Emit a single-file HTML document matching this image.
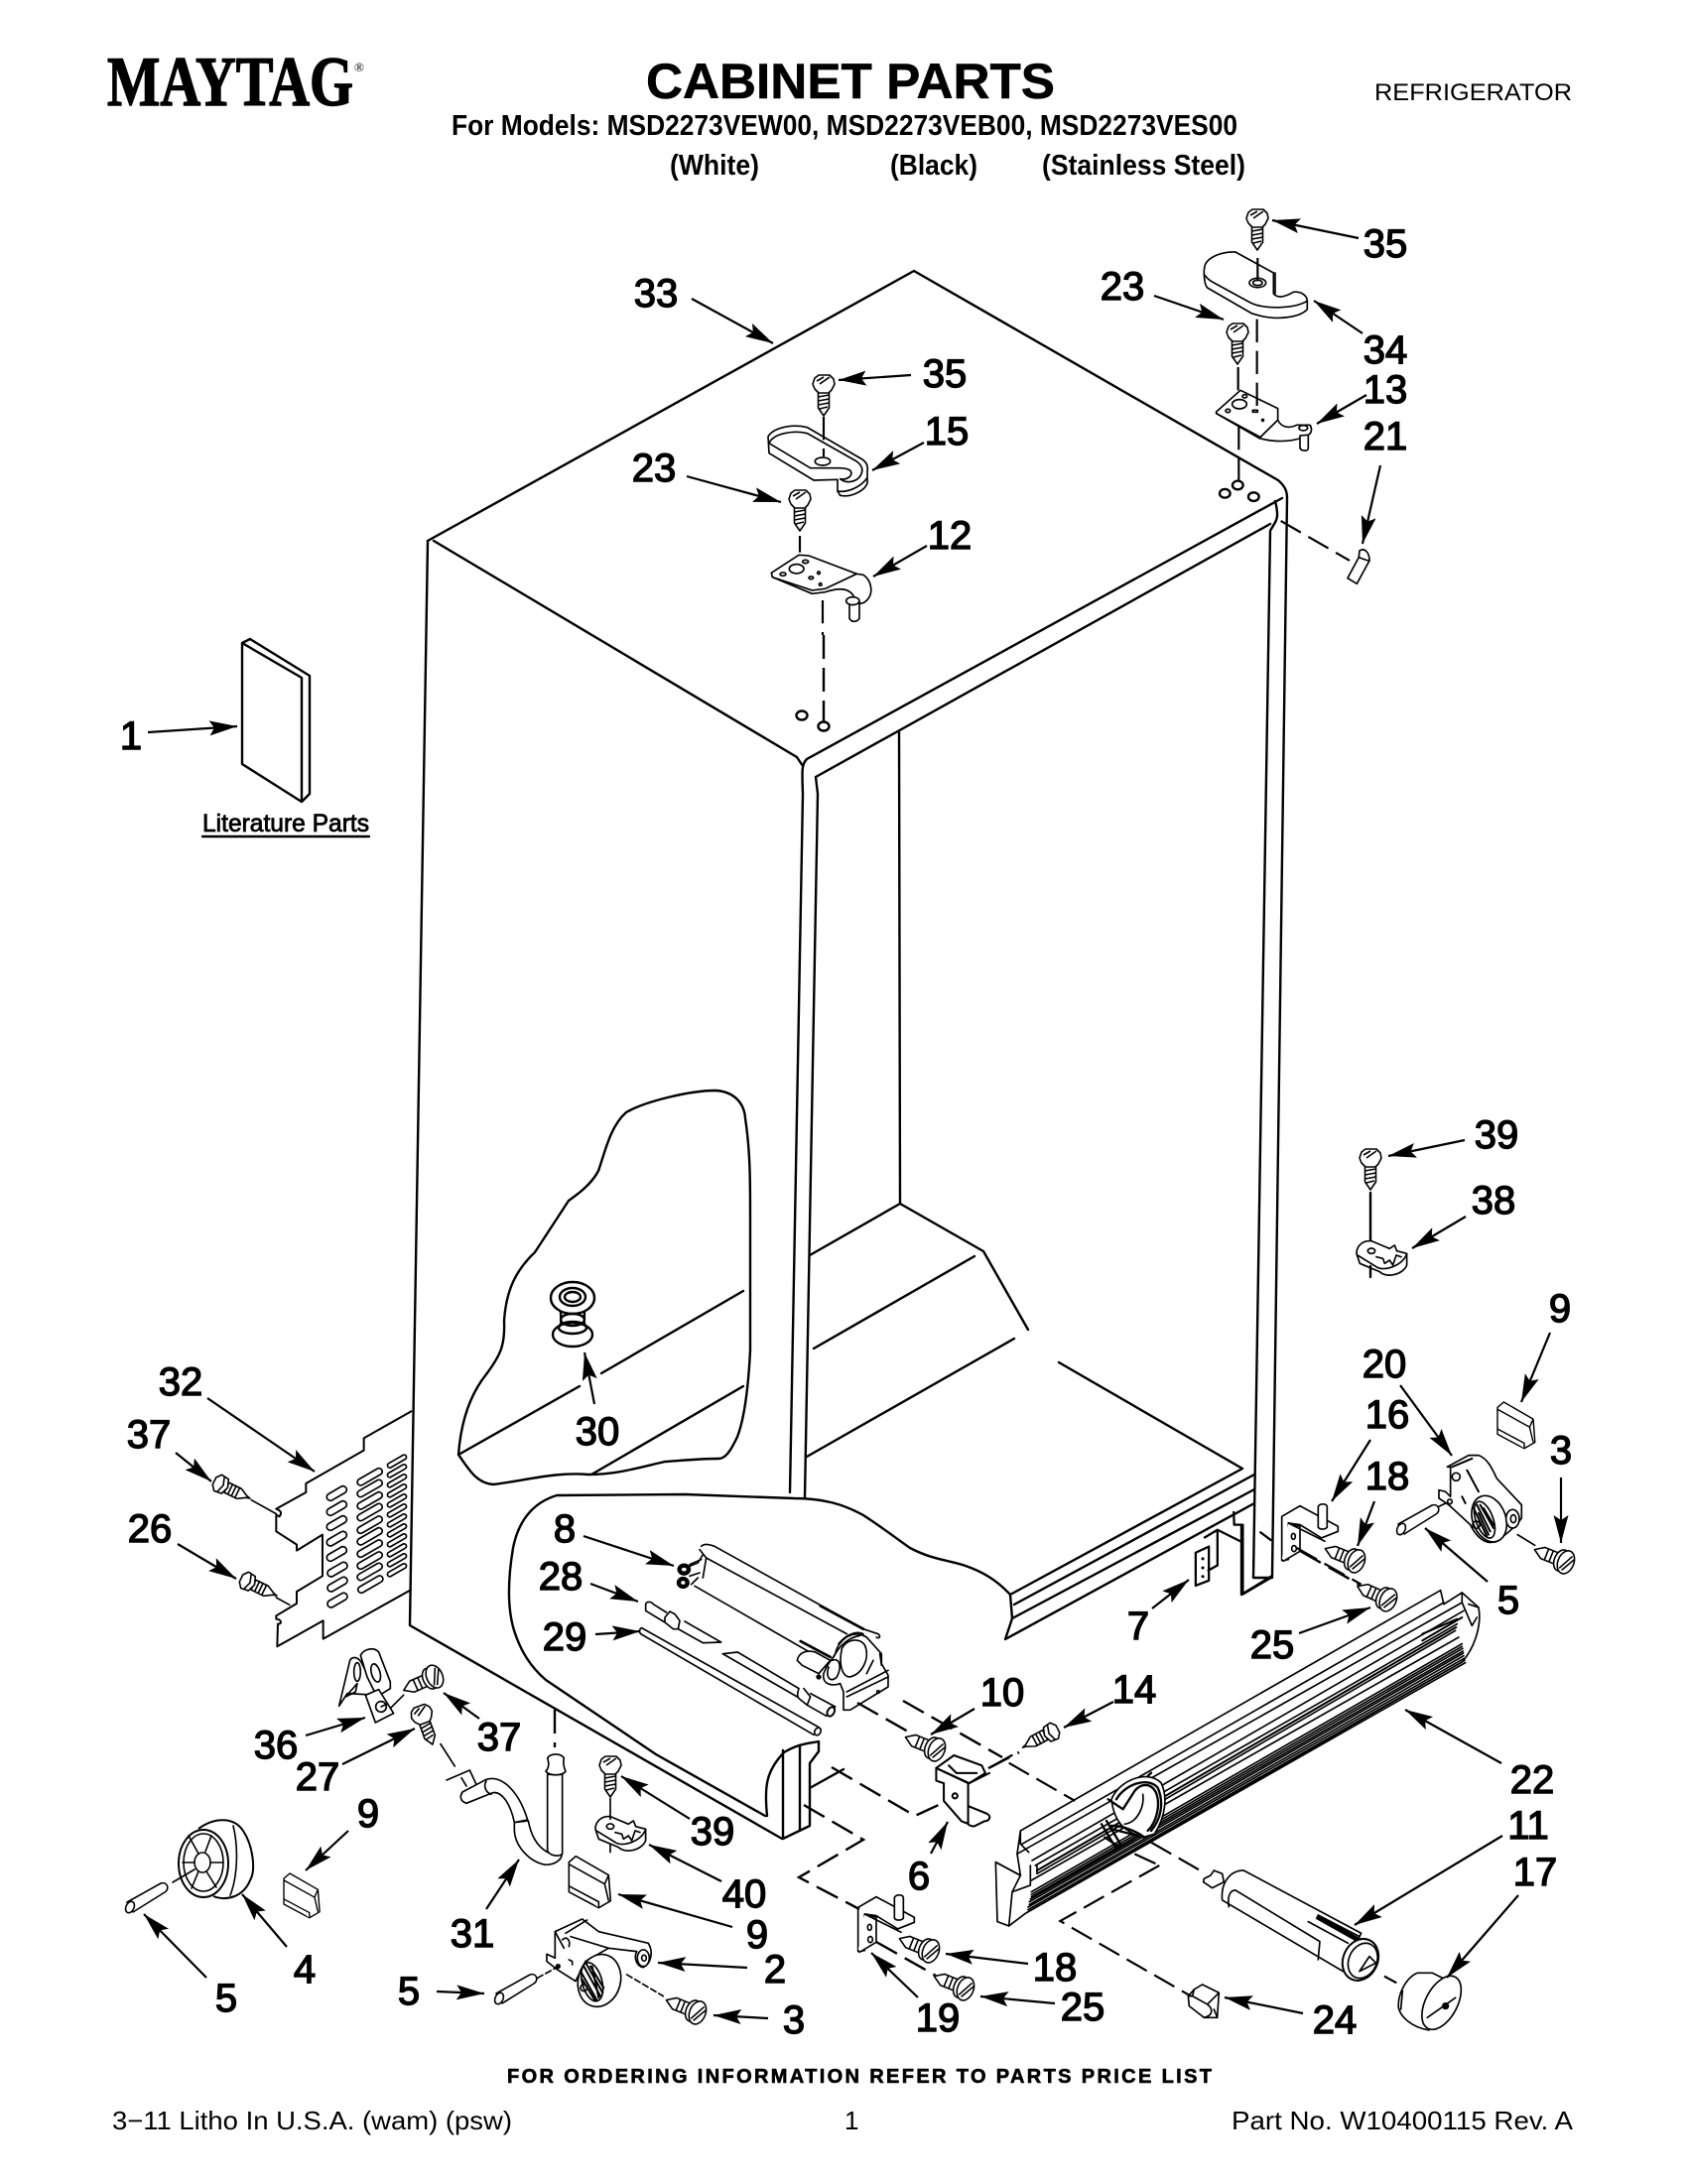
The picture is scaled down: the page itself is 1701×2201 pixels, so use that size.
<!DOCTYPE html>
<html><head><meta charset="utf-8"><title>Cabinet Parts</title>
<style>
html,body{margin:0;padding:0;background:#fff}
svg{display:block}
text{font-family:"Liberation Sans",sans-serif;fill:#000}
.n{font-size:40px;text-anchor:middle;stroke:#000;stroke-width:1.4px}
.l{fill:none;stroke:#000;stroke-width:2.4;stroke-linejoin:round;stroke-linecap:round}
.a{fill:none;stroke:#000;stroke-width:2.2;marker-end:url(#ah)}
.d{fill:none;stroke:#000;stroke-width:2.4;stroke-dasharray:24 9}
.z{fill:none;stroke:#000;stroke-width:5;stroke-linejoin:round;stroke-linecap:round}
.zw{fill:#fff;stroke:#000;stroke-width:5;stroke-linejoin:round;stroke-linecap:round}
.zd{fill:none;stroke:#000;stroke-width:6.5;stroke-dasharray:70 26}
.f{fill:#fff;stroke:#000;stroke-width:1.6;stroke-linejoin:round}
</style></head><body>
<svg width="1701" height="2201" viewBox="0 0 1701 2201" xmlns="http://www.w3.org/2000/svg">
<defs>
<marker id="ah" markerUnits="userSpaceOnUse" markerWidth="30" markerHeight="18" refX="28" refY="9" orient="auto"><path d="M28 9L0 1.5L5 9L0 16.5Z" fill="#000"/></marker>
<g id="vs"><path class="f" d="M-5.5 7V24L0 32L5.5 24V7Z"/><path class="f" d="M-11 0L-9-6L-5-9L6-9L10-5L11 0L8 6L5 9L-5 9L-9 5Z"/><path class="f" d="M-7-3L0-7M-4 0L6-7M-5.5 13L5.5 11M-5.5 17L5.5 15M-5.5 21L5.5 19M-4 25L4 23"/></g>
<g id="hs"><path class="f" d="M-6-6L-24-6L-33 0L-24 6L-6 6Z"/><path class="f" d="M-20-6V6M-15-6V6M-10-6V6"/><ellipse class="f" cx="-4" cy="0" rx="7" ry="11"/><ellipse class="f" cx="1" cy="0" rx="8" ry="12"/><path class="f" d="M-3 8L5-8M0 9L8-6"/></g>
<g id="hx"><path class="f" d="M4-5H18L26-1L30 0L26 1L18 6H4Z"/><path class="f" d="M8-6V6M12-6V6M16-6V6"/><path class="f" d="M-10-4L-6-9L2-8L5 0L2 8L-6 9L-10 4Z"/><path class="f" d="M-3-9L0 0L-3 9"/></g>
<rect id="c1" x="-33" y="-11" width="66" height="22" rx="11" class="f" transform="rotate(-30)" style="stroke-width:5"/>
<rect id="c2" x="-42" y="-10" width="84" height="20" rx="10" class="f" transform="rotate(-30)" style="stroke-width:5"/>
<rect id="c3" x="-32" y="-7" width="64" height="14" rx="7" class="f" transform="rotate(-30)" style="stroke-width:5"/>
<g id="pin"><path class="f" d="M-3-5L31-24C38-26 40-18 35-15L3 5Z"/><ellipse class="f" cx="0" cy="0" rx="4" ry="6" transform="rotate(25)"/></g>
<g id="pad"><path class="f" d="M0 6L7 0L40 19L42 45L30 52L0 36Z"/><path class="f" d="M0 8L36 28L40 45M36 28L40 19M0 30L30 46L30 52"/></g>
<g id="nut" transform="scale(.3333)"><path class="zw" d="M600 490C600 465 620 450 645 452L700 475L715 465L722 482L752 490V525C740 555 690 565 670 545L610 520Z"/><path class="z" d="M603 495L660 530C680 545 735 530 752 492M660 500L680 505L685 520L700 510L710 525L720 495L735 500"/><ellipse class="zw" cx="645" cy="482" rx="11" ry="8"/></g>
<g id="hinge" transform="scale(.3333)"><path class="zw" d="M95 1225L150 1193L265 1255V1270L215 1290L150 1250L115 1245V1355L95 1358Z"/><path class="zw" d="M115 1245L150 1255V1330L100 1360L95 1355"/><path class="z" d="M115 1245L225 1300"/><path class="zw" d="M205 1195C210 1185 230 1185 232 1195V1258C225 1265 210 1265 205 1258Z"/><ellipse class="z" cx="130" cy="1285" rx="6" ry="9"/><ellipse class="z" cx="132" cy="1322" rx="7" ry="9"/></g>
</defs>

<!-- header -->
<text x="108" y="106" font-size="71" font-weight="700" textLength="248" lengthAdjust="spacingAndGlyphs" stroke="#000" stroke-width="1.4" style="font-family:'Liberation Serif',serif">MAYTAG</text>
<text x="357" y="72" font-size="13" style="font-family:'Liberation Serif',serif">®</text>
<text x="651" y="99" font-size="50" font-weight="700" textLength="412" lengthAdjust="spacingAndGlyphs" stroke="#000" stroke-width=".5">CABINET PARTS</text>
<text x="1385" y="101" font-size="24" textLength="199" lengthAdjust="spacingAndGlyphs">REFRIGERATOR</text>
<text x="455" y="136" font-size="29" font-weight="700" textLength="792" lengthAdjust="spacingAndGlyphs">For Models: MSD2273VEW00, MSD2273VEB00, MSD2273VES00</text>
<text x="675" y="176" font-size="29" font-weight="700" textLength="90" lengthAdjust="spacingAndGlyphs">(White)</text>
<text x="897" y="176" font-size="29" font-weight="700" textLength="88" lengthAdjust="spacingAndGlyphs">(Black)</text>
<text x="1050" y="176" font-size="29" font-weight="700" textLength="205" lengthAdjust="spacingAndGlyphs">(Stainless Steel)</text>

<!-- cabinet -->
<path class="l" d="M431 545L921 273L1288 484C1295 490 1297 495 1297 502L1282 1588L1251 1607V1537M1263 1590L1280 535M1292 502L813 765C808 770 808 775 809 800L796 1504M824 800L811 1509M822 783L1280 528M1285 505C1290 525 1285 525 1280 535M1263 1590H1282M437 545L803 763L809 772M822 783L824 800"/>
<path class="l" d="M431 545L413 1638L788 1853M906 737L907 1213L816 1265M907 1213L991 1261L1036 1340M982 1266L820 1359M1022 1349L813 1468M1067 1373L1252 1480L1018 1607M1264 1486L1022 1617M1264 1501L1020 1631M1264 1515L1013 1652L1020 1631L1018 1607"/>
<!-- book -->
<path class="l" d="M244 648L252 644L312 681V800L304 808L244 770ZM244 648L304 683V808"/>
<text x="204" y="838" font-size="25" stroke="#000" stroke-width=".8" textLength="168" lengthAdjust="spacingAndGlyphs">Literature Parts</text>
<path class="l" d="M204 843H372"/>
<!-- cutaway 1 -->
<path class="l" d="M462 1466C465 1425 478 1400 490 1385C505 1365 509 1355 508 1331C510 1300 520 1280 539 1262L573 1210C580 1205 595 1195 603 1180C610 1160 615 1135 631 1121C650 1110 695 1099 721 1099C740 1100 750 1112 751 1127C756 1160 756 1190 756 1225V1361C754 1400 750 1430 743 1448C735 1465 730 1470 724 1470C705 1470 685 1472 670 1473C640 1480 620 1486 593 1486C560 1483 530 1492 497 1496C480 1495 472 1480 462 1466M462 1466L584 1397M606 1384L749 1301M596 1486L749 1397"/>
<ellipse class="l" cx="577" cy="1308" rx="22" ry="16"/><ellipse class="l" cx="577" cy="1307" rx="13" ry="9"/><ellipse class="l" cx="577" cy="1307" rx="8" ry="5"/><path class="l" d="M565 1322C565 1330 567 1335 562 1338M589 1322C589 1330 587 1335 592 1338"/><ellipse class="l" cx="577" cy="1345" rx="20" ry="12"/><ellipse class="l" cx="577" cy="1330" rx="12" ry="6"/><ellipse class="l" cx="577" cy="1338" rx="14" ry="6"/>
<!-- cutaway 2 -->
<path class="l" d="M1018 1607C1004 1592 990 1584 973 1578C955 1572 940 1572 917 1560C900 1548 890 1540 870 1527C850 1516 830 1510 800 1510L690 1506L561 1507C535 1515 522 1535 517 1560C512 1590 511 1620 518 1643C525 1665 535 1680 550 1693L661 1768L771 1830"/>
<path class="l" d="M773 1830C770 1800 772 1785 790 1766C805 1757 815 1757 825 1755V1765L816 1777V1840L789 1853V1764M806 1759V1845M816 1802L850 1783"/>
<!-- 32 panel and louvers -->
<g transform="translate(150 1380) scale(.3333)">
<path class="z" d="M793 127L650 208V245L475 345V372L385 422C395 425 405 432 395 445L385 440V490L447 530V548L525 500V625L447 672V708L385 745V755C400 755 405 770 390 770L388 838L527 760V815L790 668" style="stroke-width:6"/>
<use href="#c1" x="568" y="375"/><use href="#c1" x="568" y="420"/><use href="#c1" x="568" y="465"/><use href="#c1" x="568" y="512"/><use href="#c1" x="568" y="558"/><use href="#c1" x="570" y="605"/><use href="#c1" x="570" y="650"/><use href="#c1" x="570" y="698"/>
<use href="#c2" x="668" y="325"/><use href="#c2" x="668" y="360"/><use href="#c2" x="668" y="397"/><use href="#c2" x="668" y="432"/><use href="#c2" x="668" y="470"/><use href="#c2" x="668" y="505"/><use href="#c2" x="668" y="542"/><use href="#c2" x="668" y="578"/><use href="#c2" x="668" y="612"/><use href="#c2" x="670" y="650"/>
<use href="#c3" x="750" y="278"/><use href="#c3" x="750" y="307"/><use href="#c3" x="750" y="337"/><use href="#c3" x="750" y="367"/><use href="#c3" x="750" y="397"/><use href="#c3" x="750" y="427"/><use href="#c3" x="750" y="457"/><use href="#c3" x="750" y="487"/><use href="#c3" x="750" y="517"/><use href="#c3" x="750" y="547"/><use href="#c3" x="750" y="577"/><use href="#c3" x="750" y="607"/>
<path class="z" d="M310 395L385 437M385 690L425 712M725 1030L770 985M882 1133L925 1200"/>
<!-- 36 -->
<path class="zw" d="M575 1018L608 880C615 868 630 868 642 885L672 945L690 985L600 980Z"/>
<path class="zw" d="M640 865C650 845 680 838 695 855L730 945V965L690 990L660 930Z"/>
<path class="zw" d="M655 985L695 968L740 1040L685 1068Z"/>
<ellipse class="z" cx="630" cy="915" rx="10" ry="28"/><ellipse class="z" cx="686" cy="918" rx="13" ry="28" transform="rotate(-15 686 918)"/><path class="z" d="M595 990L630 950L625 975Z"/><circle class="z" cx="702" cy="1020" r="16"/><path class="z" d="M702 1020L720 1012"/>
</g>
<!-- 31 hose -->
<g transform="translate(400 1680) scale(.3333)">
<path class="z" d="M150 342L220 312L240 355M195 335L210 360"/>
<path class="zw" d="M198 378L270 340C320 325 370 380 395 462L355 470C345 420 320 375 290 380L210 412C190 405 190 390 198 378Z"/>
<path class="zw" d="M355 470L397 465C405 505 420 540 455 560L498 565C500 580 480 598 450 598C400 590 355 540 355 490Z"/>
<path class="zw" d="M455 325L500 325V565C490 575 460 570 455 555Z"/>
<path class="zw" d="M450 315C460 305 460 290 455 275C465 260 495 260 505 275C502 290 505 305 510 315C500 330 460 330 450 315Z"/>
<path class="z" d="M270 345C260 360 270 380 285 385"/>
<use href="#nut" transform="scale(3)"/>
<path class="z" d="M645 397V460M645 535V560"/>
<!-- large pad -->
<use href="#pad" transform="translate(520 572) scale(3)"/>
<!-- roller 2 -->
<path class="zw" d="M478 800L560 762L610 800L760 835C775 860 770 895 745 908C725 905 715 880 725 860L640 850L570 890L540 950L485 915L453 890V868L478 880Z"/>
<path class="z" d="M478 800L505 850M510 805L575 765M525 815L640 850M500 825C515 810 525 830 520 845M520 885L530 890V900"/>
<ellipse class="zw" cx="612" cy="948" rx="64" ry="80" transform="rotate(15 612 948)"/>
<ellipse class="zw" cx="590" cy="952" rx="30" ry="60" transform="rotate(-15 590 952)"/>
<path class="z" d="M565 905L615 995M573 898L622 985M585 905L625 970M558 925L605 1008M560 945L600 1010M590 905L610 1000" style="stroke-width:6"/>
<circle class="z" cx="565" cy="970" r="10"/><ellipse class="zw" cx="745" cy="880" rx="18" ry="25"/><ellipse class="z" cx="747" cy="880" rx="7" ry="9"/><circle cx="487" cy="905" r="8"/>
<path class="z" d="M425 940L480 910M695 930L805 995" stroke-dasharray="18 10"/>
</g>
<use href="#vs" x="1267" y="220"/><use href="#vs" x="1247" y="335"/><use href="#vs" x="830" y="387"/><use href="#vs" x="806" y="503"/><use href="#vs" x="1381" y="1167"/><use href="#vs" x="615" y="1779"/>
<use href="#vs" transform="translate(425 1728) rotate(-20)"/>
<use href="#hs" transform="translate(1366 1573) rotate(22)"/><use href="#hs" transform="translate(1398 1612) rotate(24)"/><use href="#hs" transform="translate(1577 1574) rotate(22)"/><use href="#hs" transform="translate(943 1763) rotate(22)"/><use href="#hs" transform="translate(702 2028) rotate(22)"/><use href="#hs" transform="translate(937 1966) rotate(22)"/><use href="#hs" transform="translate(972 2004) rotate(22)"/>
<use href="#hs" transform="translate(437 1690) rotate(-24)"/>
<use href="#hx" transform="translate(1057 1747) rotate(152)"/><use href="#hx" transform="translate(225 1497) rotate(26)"/><use href="#hx" transform="translate(252 1595) rotate(26)"/>
<!-- top hinge and covers -->
<g transform="translate(1130 190) scale(.3333)">
<path class="zw" d="M252 235C258 210 300 190 345 192L460 255V318C475 335 500 325 520 313C545 310 562 325 562 340V365C540 390 470 398 420 385L395 378L260 300C250 290 248 250 252 235Z"/>
<path class="z" d="M252 262C262 275 270 280 280 285L390 345C430 365 520 365 562 340M465 255V318"/>
<ellipse class="z" cx="412" cy="285" rx="25" ry="14"/><ellipse class="z" cx="412" cy="285" rx="14" ry="8"/>
<path class="zw" d="M287 675L360 610L473 665V700L417 755L287 680Z"/>
<path class="zw" d="M473 700C485 725 510 725 530 715L570 715C578 725 575 740 565 745C530 765 470 770 417 755L473 700Z"/>
<path class="z" d="M287 680L417 750"/>
<ellipse class="z" cx="357" cy="652" rx="22" ry="14"/><ellipse class="z" cx="373" cy="628" rx="7" ry="5"/><ellipse class="z" cx="322" cy="672" rx="7" ry="5"/><ellipse class="z" cx="550" cy="724" rx="13" ry="8"/><path class="zw" d="M540 747V785C545 795 565 795 565 785V745Z"/><rect class="z" x="397" y="670" width="15" height="6"/><rect class="z" x="425" y="698" width="5" height="5"/>
<ellipse class="zw" cx="352" cy="897" rx="16" ry="13" style="stroke-width:7"/><ellipse class="zw" cx="313" cy="922" rx="16" ry="13" style="stroke-width:7"/><ellipse class="zw" cx="400" cy="932" rx="16" ry="13" style="stroke-width:7"/>
<path class="zw" d="M720 1095C735 1085 750 1100 750 1125L712 1195L684 1178L718 1115Z"/><path class="z" d="M718 1115C730 1120 745 1125 750 1125"/>
<path class="zd" d="M412 210V280M410 395V675M353 540V640M355 720V885M482 1005L690 1125"/>
</g>
<g transform="translate(700 340) scale(.3333)">
<path class="zw" d="M222 300C240 270 300 262 340 272L500 365C520 375 525 390 522 405V440C515 465 470 485 440 478L432 465V430L360 432L225 350Z"/>
<path class="z" d="M226 318C240 290 300 280 340 290L490 375C510 390 510 405 500 420C490 435 460 445 440 428M225 320L350 395H435C470 395 480 405 470 420C460 430 450 430 440 428M432 465C460 470 500 455 522 425"/>
<ellipse class="zw" cx="387" cy="375" rx="23" ry="12"/>
<path class="zw" d="M232 712L315 658L345 660L490 715L510 718C535 735 540 770 525 790C510 810 490 810 482 785C470 760 440 755 395 770L355 775L235 725Z"/><path class="z" d="M235 725L355 765L395 760L490 715"/>
<ellipse class="z" cx="308" cy="700" rx="22" ry="14"/><ellipse class="z" cx="335" cy="678" rx="9" ry="5"/><ellipse class="z" cx="267" cy="716" rx="9" ry="5"/><ellipse class="z" cx="352" cy="727" rx="7" ry="4"/><ellipse class="z" cx="375" cy="712" rx="4" ry="4"/><ellipse class="z" cx="380" cy="747" rx="4" ry="4"/>
<path class="zw" d="M468 803V850C475 862 490 862 498 850V800Z"/><ellipse class="zw" cx="478" cy="797" rx="20" ry="12"/>
<path class="zd" d="M390 240V360M318 600V650M387 795V900"/>
</g>
<path class="d" d="M830 640V727"/>
<ellipse class="l" cx="830" cy="732" rx="5.5" ry="4.5"/><ellipse class="l" cx="808" cy="721" rx="5.5" ry="4.5"/>
<!-- right lower: hinge, 38, 20, 7 -->
<use href="#nut" transform="translate(1167 1100)"/>
<path class="l" d="M1381 1202V1250M1381 1276V1287"/>
<use href="#hinge" transform="translate(1260 1120)"/><use href="#hinge" transform="translate(833 1514)"/>
<path class="d" d="M1310 1563L1370 1597"/><path class="d" d="M883 1957L943 1991"/>
<g transform="translate(1260 1120) scale(.3333)">
<path class="zw" d="M595 1075L660 1040L690 1040C720 1050 735 1090 745 1110L820 1190V1230C800 1260 770 1280 745 1300C720 1310 690 1300 665 1250L600 1190L570 1170V1145L590 1150L605 1165V1075Z"/>
<ellipse class="zw" cx="722" cy="1232" rx="50" ry="72" transform="rotate(-20 722 1232)"/><ellipse class="zw" cx="708" cy="1235" rx="26" ry="58" transform="rotate(-20 708 1235)"/>
<path class="z" d="M685 1190L725 1270M695 1190L735 1260M705 1200L735 1250M675 1200L715 1285M690 1215L720 1280M610 1075L670 1050M655 1085L690 1150M640 1165L650 1185" style="stroke-width:6"/>
<ellipse class="zw" cx="793" cy="1232" rx="20" ry="28"/><ellipse class="z" cx="795" cy="1232" rx="8" ry="12"/><circle class="z" cx="622" cy="1105" r="12"/><circle class="z" cx="683" cy="1250" r="11"/><circle class="z" cx="603" cy="1180" r="7"/>
<path class="z" d="M570 1195L590 1185M808 1280L860 1312"/>
</g>
<use href="#pad" transform="translate(1509 1413) scale(.9)"/><use href="#pad" transform="translate(286 1888) scale(.86)"/>
<use href="#pin" transform="translate(1412 1541)"/><use href="#pin" transform="translate(503 2014)"/><use href="#pin" transform="translate(131 1922)"/>
<!-- part 7 and back bracket -->
<g transform="translate(900 1100) scale(.5107)">
<path class="z" d="M597 910L623 898V965L597 975ZM615 880L640 865L690 890M640 865V935L622 945M672 830L673 855L690 855V992L748 958M725 870L745 885" style="stroke-width:4.5"/>
<circle cx="611" cy="922" r="3"/><circle cx="611" cy="940" r="3"/><circle cx="611" cy="957" r="3"/>
</g>
<!-- 4 wheel -->
<path class="f" style="stroke-width:2" d="M200 1843C215 1832 235 1830 245 1845C255 1860 258 1885 252 1895C245 1912 228 1916 215 1911"/>
<ellipse class="f" style="stroke-width:2" cx="205" cy="1878" rx="25" ry="34"/><ellipse class="f" cx="205" cy="1877" rx="20" ry="29"/><ellipse class="f" cx="204" cy="1877" rx="8" ry="10"/>
<path class="l" style="stroke-width:1.6" d="M190 1850L200 1868M213 1850L207 1866M184 1877H196M212 1877H224M193 1903L200 1886M218 1902L208 1886M235 1840C240 1860 240 1890 232 1910M174 1897L196 1884"/>
<!-- coil 8, 28, 29 -->
<g transform="translate(640 1510) scale(.3333)">
<path class="z" d="M200 145C210 135 225 140 240 145L690 395L735 410C745 420 735 425 730 420M195 155L215 180L640 410M205 170L190 195L165 205M180 265L545 475M215 180L205 240"/>
<ellipse class="zw" cx="148" cy="215" rx="14" ry="12" style="stroke-width:13"/><ellipse class="zw" cx="145" cy="255" rx="13" ry="12" style="stroke-width:13"/><path class="z" d="M165 200L200 185M165 235L195 225M170 260L190 240"/>
<path class="zw" d="M490 490C495 465 520 458 545 465L590 490L555 530L505 505Z"/>
<path class="zw" d="M605 470C615 425 660 395 700 420L745 470V500L765 535V570L650 640L630 640V585L620 560C590 570 565 560 570 530C580 500 595 490 605 470Z"/>
<path class="z" d="M625 455C640 425 680 420 695 445C710 480 690 530 650 540C625 540 615 500 625 455M595 490C620 480 625 510 610 540C590 560 575 540 585 510M640 585L765 520M640 600L765 540M720 490L700 530M740 470L745 505M615 440C640 410 670 400 690 410M600 480C620 440 650 420 680 415"/>
<circle class="z" cx="735" cy="585" r="4"/><circle cx="555" cy="540" r="8"/>
<path class="z" d="M32 320C35 310 50 312 55 320L95 345M32 320V340L90 375L115 395L130 395L135 370L120 350L105 342L90 360V375M150 372L260 435L205 437L130 395M265 470L310 465L495 575M265 470L490 600M495 575C490 590 490 600 495 605L520 625L530 600L510 575M530 590L605 630M520 625L578 658"/>
<ellipse class="z" cx="592" cy="645" rx="10" ry="15" transform="rotate(30 592 645)" style="stroke-width:6"/>
<path class="z" d="M20 392L555 692M17 410L540 715M20 392C12 395 12 405 17 410"/>
<ellipse class="z" cx="552" cy="705" rx="9" ry="12" transform="rotate(30 552 705)"/>
<path class="z" d="M500 432L590 480" style="stroke-width:8"/>
<path class="z" d="M560 325L690 395" style="stroke-width:8"/>
</g>
<!-- part 6 -->
<g transform="translate(900 1100) scale(.5107)">
<path class="zw" d="M85 1335V1360L100 1365V1400L135 1440L148 1445V1365L85 1335Z" style="stroke-width:4"/>
<path class="zw" d="M85 1335L120 1310L175 1330L182 1345L150 1365Z" style="stroke-width:4"/>
<path class="z" d="M148 1410L185 1425C195 1430 190 1440 180 1440L160 1450C150 1450 145 1445 148 1440M110 1330L125 1345L165 1345M150 1365L190 1345" style="stroke-width:4"/><circle class="z" cx="122" cy="1390" r="5" style="stroke-width:4"/>
</g>
<!-- 22 rail -->
<g transform="translate(1000 1560) scale(.3333)">
<path class="zw" d="M85 855L1355 128L1365 170L1420 135L1470 180C1480 230 1460 300 1420 345L100 1105L50 1143L15 1130L10 950L85 990L75 925Z"/>
<path class="z" d="M90 895L1365 165M85 855V895L110 920M75 925L1420 165M120 945L1425 190M135 985L1400 250M130 960L1405 230M135 960V985L170 965M118 1005L1410 270M10 950L85 990L60 1040L50 1143M60 1040L115 1020V960M1420 135V165L1450 235L1465 210M1470 180L1440 170"/>
<path class="z" d="M118 1040L1420 290M118 1048L1420 298M118 1055L1422 304M115 1062L1423 312M112 1070L1424 318M112 1078L1425 326M108 1086L1426 334M108 1094L1428 340M105 1102L1430 347" style="stroke-width:5"/>
<path class="z" d="M1300 260L1405 215M1300 280L1420 210M135 975L1402 240" style="stroke-width:6"/>
<path class="zw" d="M360 760C385 700 470 670 510 710C530 750 525 810 490 865L455 875C415 860 370 845 360 760Z"/>
<path class="z" d="M375 760C400 715 470 690 500 725C520 770 510 820 480 855M350 760L395 790L430 735C450 710 480 710 495 740C510 780 495 830 470 855M360 840C400 840 440 860 460 875M470 690L480 680M345 825L390 900M330 835L375 910M340 875L385 905M360 850L440 870" style="stroke-width:7"/>
<path class="z" d="M455 745C460 780 440 830 400 835"/>
<!-- filter 11 -->
<path class="zw" d="M695 1065C690 1010 720 975 760 975L1115 1165L1060 1280Z"/>
<path class="z" d="M715 1085C710 1050 720 1035 735 1035L990 1190L985 1245M985 1110L1110 1175M980 1120L1105 1190M955 1130L1075 1195"/>
<path class="z" d="M985 1115L1105 1182" style="stroke-width:10"/>
<ellipse class="zw" cx="1113" cy="1245" rx="52" ry="65" transform="rotate(25 1113 1245)" style="stroke-width:6"/><ellipse class="z" cx="1120" cy="1248" rx="42" ry="55" transform="rotate(25 1120 1248)"/>
<path class="z" d="M1110 1280L1160 1255L1140 1235Z"/>
<path class="zw" d="M640 1000L660 990L670 975L695 985L700 1010L665 1028L638 1010Z"/>
<!-- 17 -->
<path class="zw" d="M1285 1285C1250 1300 1225 1350 1228 1390C1235 1420 1270 1450 1320 1458L1390 1315L1330 1285Z"/>
<ellipse class="zw" cx="1358" cy="1375" rx="48" ry="88" transform="rotate(28 1358 1375)"/>
<path class="z" d="M1315 1420L1400 1360M1240 1340L1235 1395"/><circle cx="1370" cy="1385" r="11"/>
<!-- 24 -->
<path class="zw" d="M610 1335L635 1320L685 1345L680 1420L640 1420L595 1385L592 1355Z"/><path class="z" d="M610 1335L605 1355L592 1355M605 1355L650 1380L685 1345M650 1380C670 1395 665 1415 640 1420M670 1395L680 1420"/>
<path class="zd" d="M50 650L250 765M480 890L645 985M505 960L205 1128L600 1355M1185 1295L1222 1315M430 925L505 960M0 660L80 615M920 0L1115 110" stroke-dasharray="45 28"/>
</g>
<path class="d" d="M864 1716L915 1745M996 1782L1027 1766M838 1781L922 1830L948 1818M810 1819L870 1854L805 1892L866 1924"/>
<path class="d" d="M559 1723V1761"/>
<path class="d" d="M910 1714L1010 1771"/>

<!-- arrows -->
<path class="a" d="M1369 240L1282 222"/><path class="a" d="M1163 298L1233 322"/><path class="a" d="M1373 336L1324 303"/><path class="a" d="M1377 398L1327 427"/><path class="a" d="M1391 469L1373 548"/>
<path class="a" d="M918 378L845 383"/><path class="a" d="M931 446L879 474"/><path class="a" d="M934 550L880 581"/><path class="a" d="M692 480L787 506"/><path class="a" d="M697 301L779 346"/><path class="a" d="M149 738L239 732"/>
<path class="a" d="M209 1409L317 1483"/><path class="a" d="M177 1464L213 1493"/><path class="a" d="M179 1556L238 1591"/><path class="a" d="M308 1749L368 1731"/><path class="a" d="M483 1732L447 1706"/><path class="a" d="M345 1778L418 1742"/>
<path class="a" d="M490 1924L523 1874"/><path class="a" d="M695 1833L626 1790"/><path class="a" d="M727 1896L654 1859"/><path class="a" d="M738 1942L623 1909"/><path class="a" d="M753 1983L663 1978"/><path class="a" d="M774 2034L719 2031"/><path class="a" d="M440 2007L488 2009"/>
<path class="a" d="M351 1845L308 1885"/><path class="a" d="M289 1962L244 1909"/><path class="a" d="M208 1993L145 1929"/><path class="a" d="M588 1548L679 1578"/><path class="a" d="M595 1596L643 1614"/><path class="a" d="M600 1647L645 1644"/><path class="a" d="M599 1415L589 1363"/>
<path class="a" d="M982 1722L938 1748"/><path class="a" d="M1122 1715L1072 1741"/><path class="a" d="M938 1868L955 1836"/><path class="a" d="M1161 1621L1198 1592"/><path class="a" d="M1309 1646L1381 1620"/><path class="a" d="M1513 1777L1416 1723"/><path class="a" d="M1514 1850L1365 1940"/><path class="a" d="M1530 1910L1458 1993"/><path class="a" d="M1313 2029L1234 2013"/><path class="a" d="M1036 1979L953 1969"/><path class="a" d="M1063 2019L988 2012"/><path class="a" d="M925 2013L878 1968"/>
<path class="a" d="M1476 1149L1399 1165"/><path class="a" d="M1477 1226L1423 1258"/><path class="a" d="M1562 1343L1533 1413"/><path class="a" d="M1411 1396L1463 1467"/><path class="a" d="M1381 1451L1342 1513"/><path class="a" d="M1385 1513L1368 1558"/><path class="a" d="M1499 1594L1436 1540"/><path class="a" d="M1573 1489V1555"/>

<!-- labels -->
<text class="n" x="1396" y="259">35</text><text class="n" x="1396" y="366">34</text><text class="n" x="1396" y="406">13</text><text class="n" x="1396" y="453">21</text><text class="n" x="1131" y="302">23</text><text class="n" x="661" y="309">33</text><text class="n" x="952" y="390">35</text><text class="n" x="954" y="448">15</text><text class="n" x="957" y="553">12</text><text class="n" x="659" y="485">23</text><text class="n" x="132" y="755">1</text>
<text class="n" x="602" y="1456">30</text><text class="n" x="1508" y="1157">39</text><text class="n" x="1505" y="1223">38</text><text class="n" x="1572" y="1332">9</text><text class="n" x="1395" y="1388">20</text><text class="n" x="1398" y="1439">16</text><text class="n" x="1398" y="1501">18</text><text class="n" x="1573" y="1475">3</text><text class="n" x="1520" y="1626">5</text><text class="n" x="1282" y="1671">25</text><text class="n" x="1147" y="1652">7</text><text class="n" x="1544" y="1807">22</text><text class="n" x="1540" y="1853">11</text><text class="n" x="1547" y="1900">17</text><text class="n" x="1143" y="1716">14</text><text class="n" x="1010" y="1719">10</text><text class="n" x="926" y="1904">6</text><text class="n" x="945" y="2047">19</text><text class="n" x="1063" y="1996">18</text><text class="n" x="1091" y="2036">25</text><text class="n" x="1345" y="2049">24</text>
<text class="n" x="569" y="1554">8</text><text class="n" x="565" y="1602">28</text><text class="n" x="569" y="1663">29</text><text class="n" x="151" y="1554">26</text><text class="n" x="150" y="1459">37</text><text class="n" x="182" y="1406">32</text><text class="n" x="278" y="1772">36</text><text class="n" x="320" y="1804">27</text><text class="n" x="503" y="1764">37</text><text class="n" x="371" y="1841">9</text><text class="n" x="718" y="1859">39</text><text class="n" x="750" y="1922">40</text><text class="n" x="763" y="1963">9</text><text class="n" x="476" y="1962">31</text><text class="n" x="781" y="1998">2</text><text class="n" x="800" y="2049">3</text><text class="n" x="412" y="2020">5</text><text class="n" x="307" y="1998">4</text><text class="n" x="228" y="2027">5</text>

<!-- footer -->
<text x="511" y="2099" font-size="20" font-weight="700" textLength="710" lengthAdjust="spacing" stroke="#000" stroke-width=".6">FOR ORDERING INFORMATION REFER TO PARTS PRICE LIST</text>
<text x="113" y="2146" font-size="26" textLength="403" lengthAdjust="spacingAndGlyphs">3−11 Litho In U.S.A. (wam) (psw)</text>
<text x="851" y="2146" font-size="26">1</text>
<text x="1241" y="2146" font-size="26" textLength="344" lengthAdjust="spacingAndGlyphs">Part No. W10400115 Rev. A</text>
</svg>
</body></html>
